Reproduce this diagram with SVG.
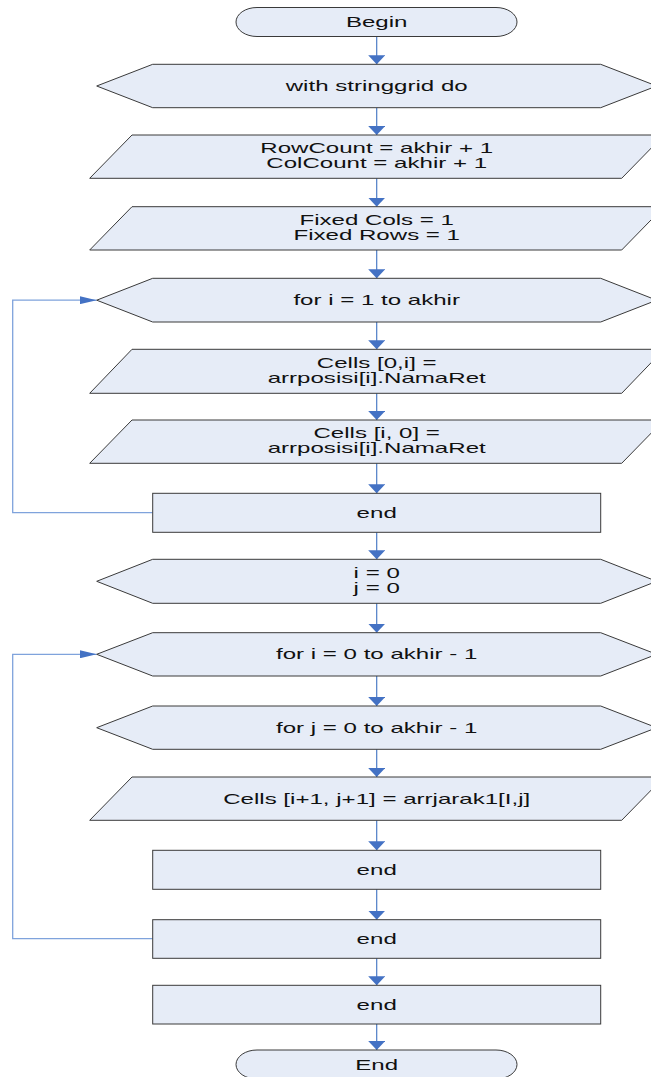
<svg xmlns="http://www.w3.org/2000/svg" width="651" height="1077" viewBox="0 0 651 1077">
  <style>
    .shape { fill: #E6ECF7; stroke: #3a3a3a; stroke-width: 1; }
    .lbl { font-family: "Liberation Sans", Arial, sans-serif; font-size: 14px; fill: #111; text-anchor: middle; }
    .flow { fill: none; stroke: #4C7CC6; stroke-width: 1.2; }
    .loop { fill: none; stroke: #7FA3DC; stroke-width: 1.3; }
  </style>
  <defs>
    <marker id="arrV" viewBox="0 0 9 17" refX="9" refY="8.5" markerWidth="9" markerHeight="17" markerUnits="userSpaceOnUse" orient="auto">
      <path d="M0,0 L9,8.5 L0,17 z" fill="#4472C4"/>
    </marker>
    <marker id="arrH" viewBox="0 0 17 8" refX="17" refY="4" markerWidth="17" markerHeight="8" markerUnits="userSpaceOnUse" orient="auto">
      <path d="M0,0 L17,4 L0,8 z" fill="#4472C4"/>
    </marker>
  </defs>

  <rect width="651" height="1077" fill="#ffffff"/>

  <!-- connectors -->
  <g id="connectors">
    <path class="flow" d="M376.7,36.5 V64.3" marker-end="url(#arrV)"/>
    <path class="flow" d="M376.7,107.7 V135" marker-end="url(#arrV)"/>
    <path class="flow" d="M376.7,178.3 V206.7" marker-end="url(#arrV)"/>
    <path class="flow" d="M376.7,250 V278.3" marker-end="url(#arrV)"/>
    <path class="flow" d="M376.7,322 V349.3" marker-end="url(#arrV)"/>
    <path class="flow" d="M376.7,393.3 V420" marker-end="url(#arrV)"/>
    <path class="flow" d="M376.7,463.3 V493.3" marker-end="url(#arrV)"/>
    <path class="flow" d="M376.7,532.3 V559.3" marker-end="url(#arrV)"/>
    <path class="flow" d="M376.7,603.3 V632.7" marker-end="url(#arrV)"/>
    <path class="flow" d="M376.7,676 V706" marker-end="url(#arrV)"/>
    <path class="flow" d="M376.7,749.3 V777" marker-end="url(#arrV)"/>
    <path class="flow" d="M376.7,820.3 V850.3" marker-end="url(#arrV)"/>
    <path class="flow" d="M376.7,889.3 V919.7" marker-end="url(#arrV)"/>
    <path class="flow" d="M376.7,958.3 V985.3" marker-end="url(#arrV)"/>
    <path class="flow" d="M376.7,1024 V1050" marker-end="url(#arrV)"/>
    <!-- loop back-edges -->
    <path class="loop" d="M152.7,512.7 H12.7 V300.2 H96.7" marker-end="url(#arrH)"/>
    <path class="loop" d="M152.7,938.7 H12.7 V654.3 H96.7" marker-end="url(#arrH)"/>
  </g>

  <g id="begin">
    <path class="shape" d="M257,7.5 H496 A21,14.5 0 0 1 496,36.5 H257 A21,14.5 0 0 1 257,7.5 z"/>
    <text class="lbl" transform="translate(376.7,27) scale(1.72,1)">Begin</text>
  </g>

  <g id="with-grid">
    <polygon class="shape" points="96.7,86 152.7,64.3 600.7,64.3 656.7,86 600.7,107.7 152.7,107.7"/>
    <text class="lbl" transform="translate(376.7,91) scale(1.72,1)">with stringgrid do</text>
  </g>

  <g id="set-counts">
    <polygon class="shape" points="89.7,178.3 132,135 664,135 621.7,178.3"/>
    <text class="lbl" transform="translate(376.7,153.3) scale(1.72,1)">RowCount = akhir + 1</text>
    <text class="lbl" transform="translate(376.7,167.8) scale(1.72,1)">ColCount = akhir + 1</text>
  </g>

  <g id="set-fixed">
    <polygon class="shape" points="89.7,250 132,206.7 664,206.7 621.7,250"/>
    <text class="lbl" transform="translate(376.7,225) scale(1.72,1)">Fixed Cols = 1</text>
    <text class="lbl" transform="translate(376.7,239.5) scale(1.72,1)">Fixed Rows = 1</text>
  </g>

  <g id="loop-i1">
    <polygon class="shape" points="96.7,300.2 152.7,278.3 600.7,278.3 656.7,300.2 600.7,322 152.7,322"/>
    <text class="lbl" transform="translate(376.7,305.2) scale(1.72,1)">for i = 1 to akhir</text>
  </g>

  <g id="cells-0i">
    <polygon class="shape" points="89.7,393.3 132,349.3 664,349.3 621.7,393.3"/>
    <text class="lbl" transform="translate(376.7,368) scale(1.72,1)">Cells [0,i] =</text>
    <text class="lbl" transform="translate(376.7,382.5) scale(1.72,1)">arrposisi[i].NamaRet</text>
  </g>

  <g id="cells-i0">
    <polygon class="shape" points="89.7,463.3 132,420 664,420 621.7,463.3"/>
    <text class="lbl" transform="translate(376.7,438.3) scale(1.72,1)">Cells [i, 0] =</text>
    <text class="lbl" transform="translate(376.7,452.8) scale(1.72,1)">arrposisi[i].NamaRet</text>
  </g>

  <g id="end-loop-i1">
    <rect class="shape" x="152.7" y="493.3" width="448" height="39"/>
    <text class="lbl" transform="translate(376.7,517.8) scale(1.72,1)">end</text>
  </g>

  <g id="init-ij">
    <polygon class="shape" points="96.7,581.3 152.7,559.3 600.7,559.3 656.7,581.3 600.7,603.3 152.7,603.3"/>
    <text class="lbl" transform="translate(376.7,578) scale(1.72,1)">i = 0</text>
    <text class="lbl" transform="translate(376.7,592.5) scale(1.72,1)">j = 0</text>
  </g>

  <g id="loop-i0">
    <polygon class="shape" points="96.7,654.3 152.7,632.7 600.7,632.7 656.7,654.3 600.7,676 152.7,676"/>
    <text class="lbl" transform="translate(376.7,659.3) scale(1.72,1)">for i = 0 to akhir - 1</text>
  </g>

  <g id="loop-j0">
    <polygon class="shape" points="96.7,727.7 152.7,706 600.7,706 656.7,727.7 600.7,749.3 152.7,749.3"/>
    <text class="lbl" transform="translate(376.7,732.7) scale(1.72,1)">for j = 0 to akhir - 1</text>
  </g>

  <g id="cells-ij">
    <polygon class="shape" points="89.7,820.3 132,777 664,777 621.7,820.3"/>
    <text class="lbl" transform="translate(376.7,803.7) scale(1.72,1)">Cells [i+1, j+1] = arrjarak1[I,j]</text>
  </g>

  <g id="end-loop-j">
    <rect class="shape" x="152.7" y="850.3" width="448" height="39"/>
    <text class="lbl" transform="translate(376.7,874.8) scale(1.72,1)">end</text>
  </g>

  <g id="end-loop-i0">
    <rect class="shape" x="152.7" y="919.7" width="448" height="38.6"/>
    <text class="lbl" transform="translate(376.7,944) scale(1.72,1)">end</text>
  </g>

  <g id="end-with">
    <rect class="shape" x="152.7" y="985.3" width="448" height="38.7"/>
    <text class="lbl" transform="translate(376.7,1009.7) scale(1.72,1)">end</text>
  </g>

  <g id="end">
    <path class="shape" d="M257,1050 H496 A21,14.5 0 0 1 496,1079 H257 A21,14.5 0 0 1 257,1050 z"/>
    <text class="lbl" transform="translate(376.7,1069.5) scale(1.72,1)">End</text>
  </g>
</svg>
